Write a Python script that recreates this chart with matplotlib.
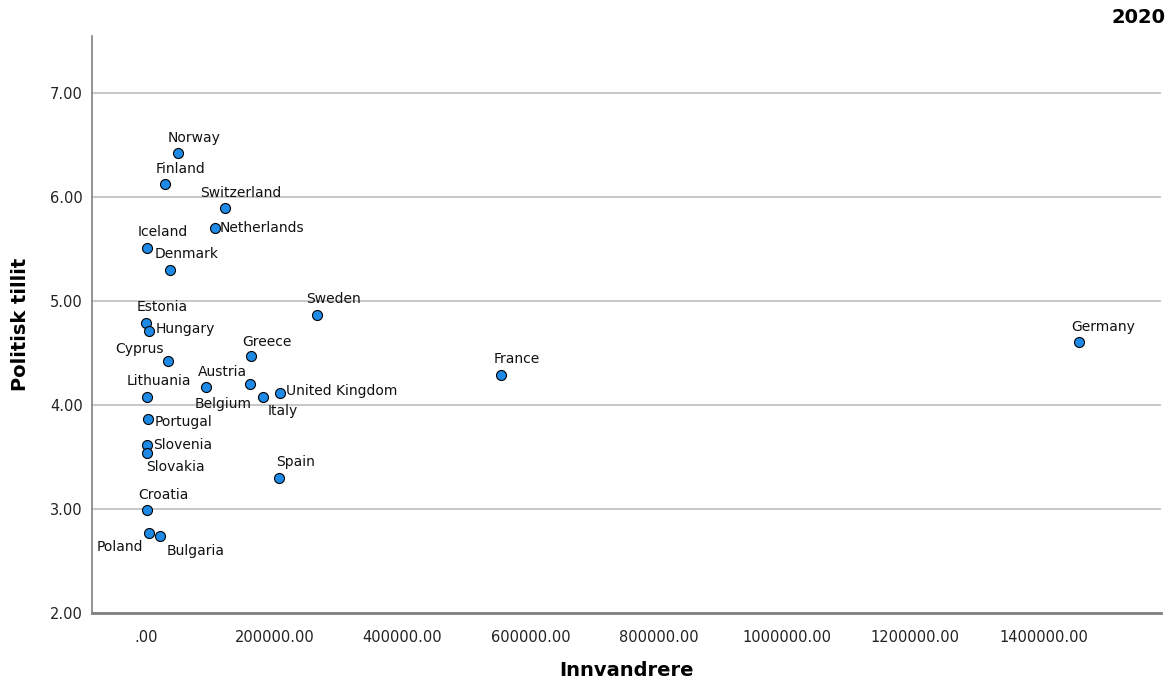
import matplotlib
matplotlib.use("Agg")
import matplotlib.pyplot as plt

# immigrants (x) vs. political trust (y), 2020
countries = ["Norway", "Finland", "Switzerland", "Netherlands", "Iceland", "Denmark",
             "Sweden", "Estonia", "Hungary", "Germany", "Cyprus", "Greece", "France",
             "Austria", "Belgium", "United Kingdom", "Italy", "Lithuania", "Portugal",
             "Slovenia", "Slovakia", "Spain", "Croatia", "Poland", "Bulgaria"]
innvandrere = [50400, 29200, 122800, 107600, 1100, 37900,
               267200, 500, 5100, 1456000, 34800, 163800, 553800,
               93600, 162200, 209000, 182000, 2000, 3600,
               1600, 1100, 207500, 1600, 5100, 22300]
tillit = [6.42, 6.125, 5.89, 5.70, 5.51, 5.30,
          4.87, 4.79, 4.71, 4.61, 4.42, 4.47, 4.29,
          4.17, 4.20, 4.12, 4.08, 4.08, 3.87,
          3.62, 3.54, 3.30, 2.99, 2.77, 2.74]

# label placement (pixel offsets from point, alignment)
above = ((16, 15.5), "center")
label_pos = {
    "Netherlands": ((5, 0), "left"),
    "Hungary": ((6, 2), "left"),
    "Cyprus": ((-5, 12.5), "right"),
    "Belgium": ((-27, -20), "center"),
    "Italy": ((20, -14.5), "center"),
    "United Kingdom": ((6, 2), "left"),
    "Lithuania": ((11, 15.5), "center"),
    "Portugal": ((6, -3.5), "left"),
    "Slovenia": ((6, -0.5), "left"),
    "Slovakia": ((29, -14), "center"),
    "Poland": ((-30, -14.5), "center"),
    "Bulgaria": ((35, -14.5), "center"),
    "Germany": ((24, 15), "center"),
    "Greece": ((16, 14.5), "center"),
}

fig = plt.figure(figsize=(11.76, 6.83), dpi=100)
ax = fig.add_axes([0.0785, 0.1025, 0.909, 0.845])

ax.scatter(innvandrere, tillit, s=52, color="#1f8ae6", edgecolors="black",
           linewidths=0.8, zorder=3)

for name, x, y in zip(countries, innvandrere, tillit):
    (dx, dy), ha = label_pos.get(name, above)
    ax.annotate(name, (x, y), xytext=(dx, dy), textcoords="offset pixels",
                ha=ha, va="center", fontsize=10, color="#111111", zorder=4)

ax.set_xlim(-84000, 1584000)
ax.set_ylim(2.0, 7.55)
ax.set_xticks([0, 200000, 400000, 600000, 800000, 1000000, 1200000, 1400000])
ax.set_xticklabels([".00", "200000.00", "400000.00", "600000.00", "800000.00",
                    "1000000.00", "1200000.00", "1400000.00"])
ax.set_yticks([2, 3, 4, 5, 6, 7])
ax.set_yticklabels(["2.00", "3.00", "4.00", "5.00", "6.00", "7.00"])
ax.tick_params(length=0, labelsize=10.5, colors="#222222")
ax.tick_params(axis="x", pad=12)
ax.tick_params(axis="y", pad=7)

ax.grid(axis="y", color="#c4c4c4", linewidth=1.3, zorder=0)
ax.set_axisbelow(True)
for side in ["top", "right"]:
    ax.spines[side].set_visible(False)
ax.spines["left"].set_color("#808080")
ax.spines["bottom"].set_color("#808080")
ax.spines["left"].set_linewidth(1.2)
ax.spines["bottom"].set_linewidth(2)

ax.set_xlabel("Innvandrere", fontsize=14, fontweight="bold", va="center")
ax.xaxis.set_label_coords(0.5, -0.099)
ax.set_ylabel("Politisk tillit", fontsize=14, fontweight="bold", va="center", ha="center")
ax.yaxis.set_label_coords(-0.0674, 0.5)

fig.text(0.968, 0.974, "2020", ha="center", va="center", fontsize=14, fontweight="bold")

fig.savefig("out.png", dpi=100)
